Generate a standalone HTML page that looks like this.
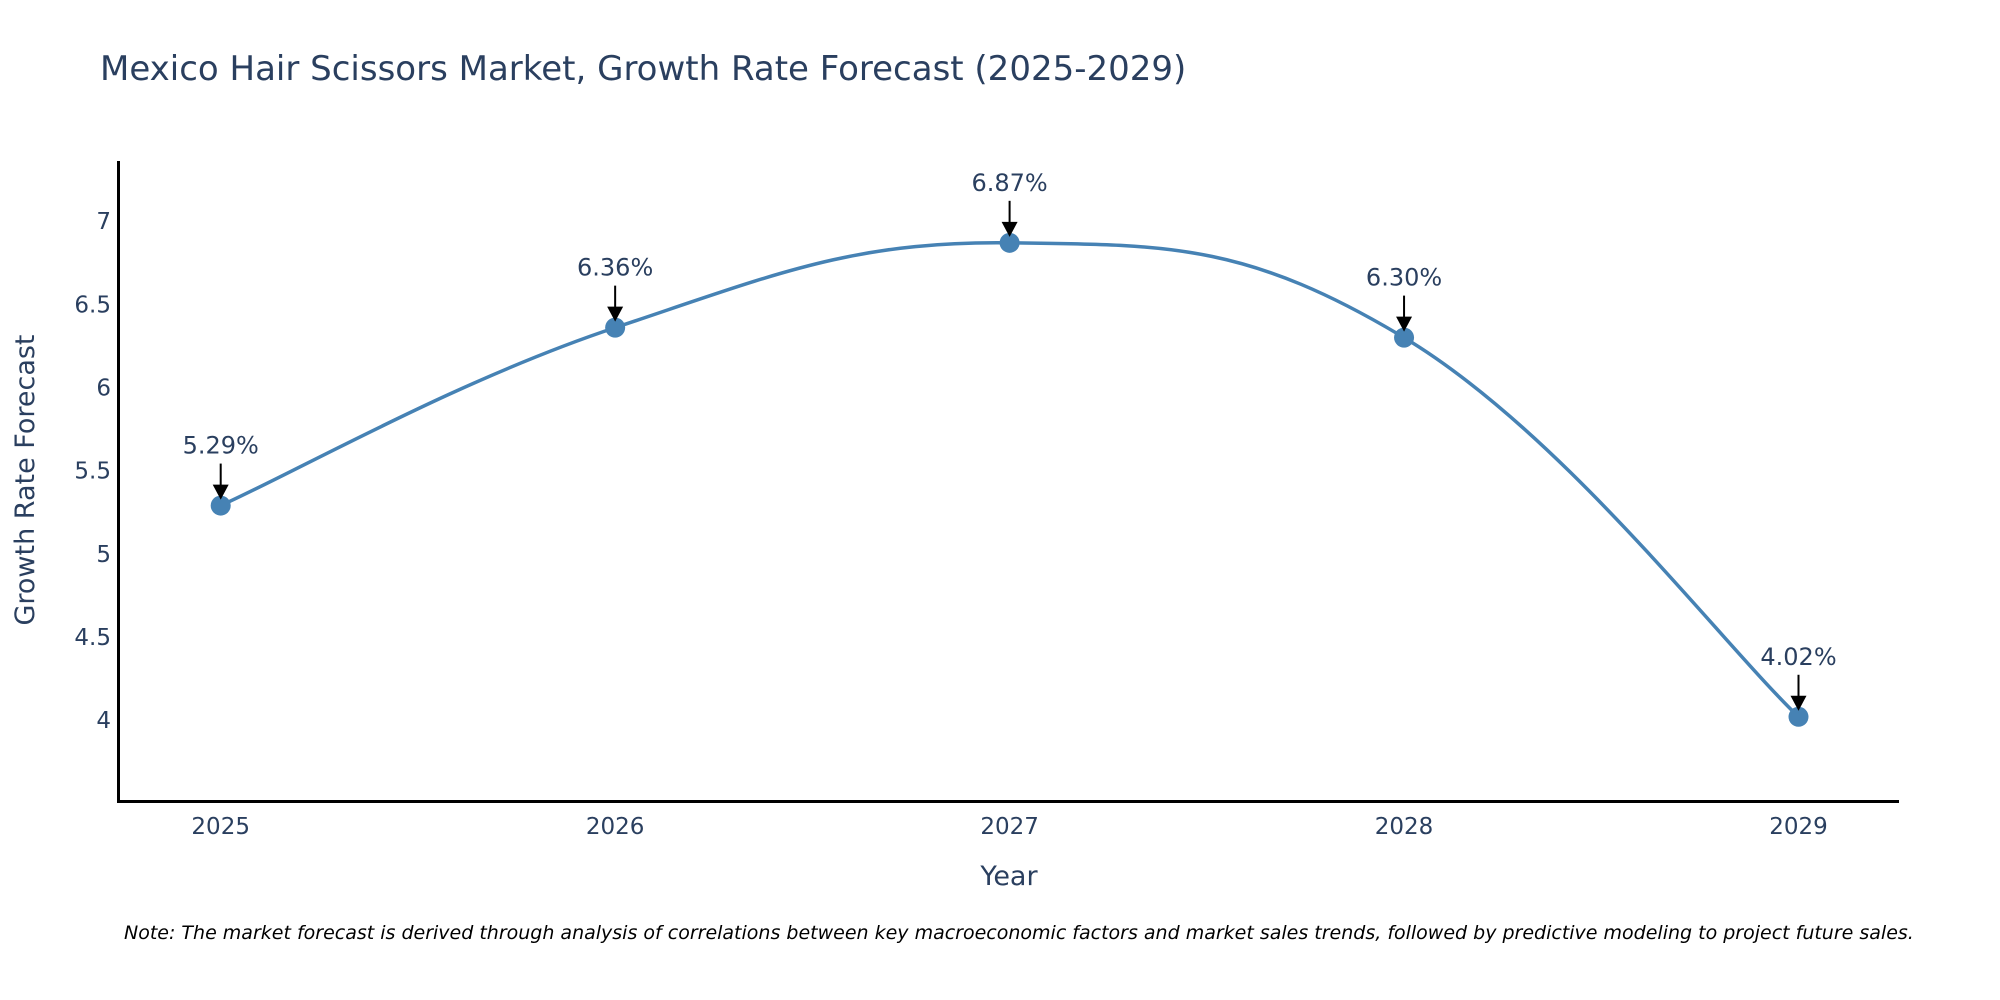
<!DOCTYPE html>
<html><head><meta charset="utf-8"><style>
body{margin:0;background:#fff;}
svg{display:block;font-family:"DejaVu Sans","Liberation Sans",sans-serif;}
</style></head><body>
<svg id="chart" width="2000" height="1000" viewBox="0 0 2000 1000">
<text x="100" y="80" font-size="34" fill="#2a3f5f">Mexico Hair Scissors Market, Growth Rate Forecast (2025-2029)</text>
<line x1="118.5" y1="161" x2="118.5" y2="802" stroke="#000" stroke-width="3"/>
<line x1="117" y1="801.5" x2="1899" y2="801.5" stroke="#000" stroke-width="3"/>
<g id="yticks"></g><g id="xticks"></g>
<path id="line" fill="none" stroke="#4682b4" stroke-width="3.5"/>
<g id="points"></g><g id="annots"></g>
<text x="1009" y="885" font-size="27" fill="#2a3f5f" text-anchor="middle">Year</text>
<text transform="translate(34,480) rotate(-90)" font-size="27" fill="#2a3f5f" text-anchor="middle">Growth Rate Forecast</text>
<text x="124" y="939" font-size="19" font-style="italic" fill="#000">Note: The market forecast is derived through analysis of correlations between key macroeconomic factors and market sales trends, followed by predictive modeling to project future sales.</text>
</svg>
<script>
const years=[2025,2026,2027,2028,2029];
const values=[5.29,6.36,6.87,6.30,4.02];
const labels=["5.29%","6.36%","6.87%","6.30%","4.02%"];
const yTicks=[4,4.5,5,5.5,6,6.5,7];
const NS="http://www.w3.org/2000/svg";
const xS=v=>220.7+(v-2025)*394.45;
const yS=v=>720.1-(v-4)*166.3;
function mk(tag,attrs,parent,text){const e=document.createElementNS(NS,tag);for(const k in attrs)e.setAttribute(k,attrs[k]);if(text!==undefined)e.textContent=text;document.getElementById(parent).appendChild(e);return e;}
yTicks.forEach(t=>{const e=mk('text',{x:111,y:yS(t)+8,'font-size':23,fill:'#2a3f5f','text-anchor':'end'},'yticks',String(t));

});
years.forEach(y=>{const e=mk('text',{x:xS(y),y:834,'font-size':23,fill:'#2a3f5f','text-anchor':'middle'},'xticks',String(y));

});
const P=years.map((y,i)=>[xS(y),yS(values[i])]);
let d=`M${P[0][0]},${P[0][1]}`;const s=0.4;
for(let i=0;i<P.length-1;i++){const p0=P[Math.max(0,i-1)],p1=P[i],p2=P[i+1],p3=P[Math.min(P.length-1,i+2)];
const c1=[p1[0]+(p2[0]-p0[0])*s*0.5,p1[1]+(p2[1]-p0[1])*s*0.5];
const c2=[p2[0]-(p3[0]-p1[0])*s*0.5,p2[1]-(p3[1]-p1[1])*s*0.5];
d+=` C${c1[0]},${c1[1]} ${c2[0]},${c2[1]} ${p2[0]},${p2[1]}`;}
document.getElementById('line').setAttribute('d',d);
P.forEach((p,i)=>{const c=mk('circle',{cx:p[0],cy:p[1],r:10,fill:'#4682b4'},'points');


const l=mk('line',{x1:p[0],y1:p[1]-42,x2:p[0],y2:p[1]-18,stroke:'#000','stroke-width':2},'annots');


const h=mk('polygon',{points:`${p[0]-8},${p[1]-21} ${p[0]+8},${p[1]-21} ${p[0]},${p[1]-6}`,fill:'#000'},'annots');


const t=mk('text',{x:p[0],y:p[1]-52,'font-size':24,fill:'#2a3f5f','text-anchor':'middle'},'annots',labels[i]);

});
</script>
</body></html>
